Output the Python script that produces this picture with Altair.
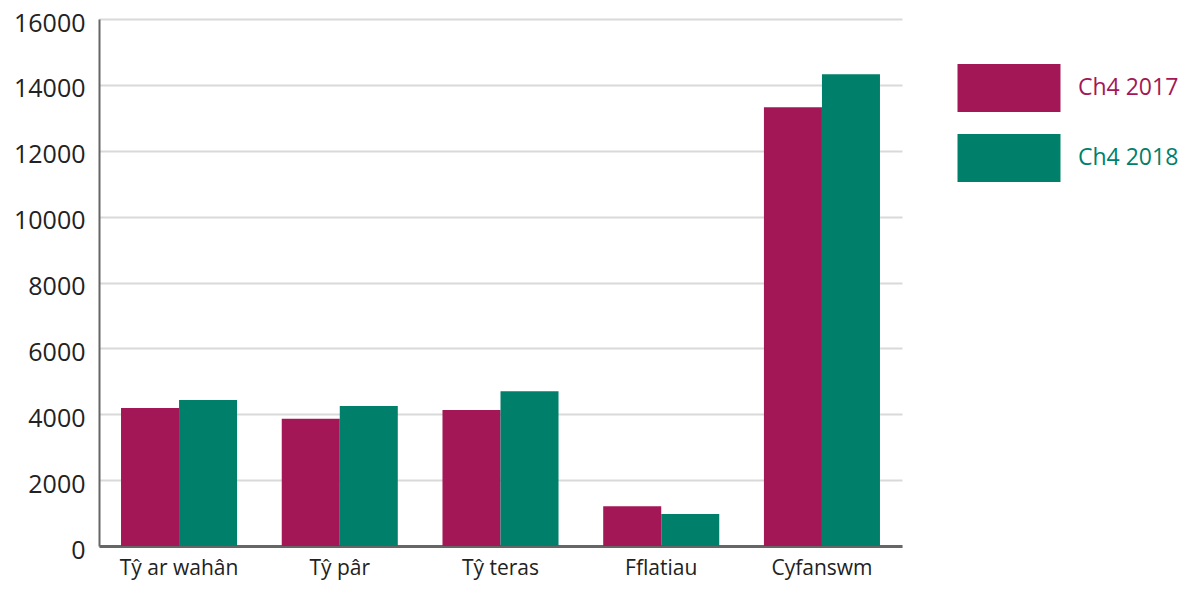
import altair as alt
import pandas as pd

categories = ["Tŷ ar wahân", "Tŷ pâr", "Tŷ teras", "Fflatiau", "Cyfanswm"]
series = ["Ch4 2017", "Ch4 2018"]
values_2017 = [4190, 3860, 4130, 1210, 13320]
values_2018 = [4430, 4250, 4700, 970, 14320]
colors = ["#A31756", "#00806A"]
y_ticks = [0, 2000, 4000, 6000, 8000, 10000, 12000, 14000, 16000]

rows = []
for c, a, b in zip(categories, values_2017, values_2018):
    rows.append({"cat": c, "series": series[0], "value": a})
    rows.append({"cat": c, "series": series[1], "value": b})
df = pd.DataFrame(rows)

FONT = "Open Sans"
label_color_expr = "datum.value == '%s' ? '%s' : '%s'" % (series[0], colors[0], colors[1])

chart = alt.Chart(df).mark_bar(strokeWidth=0).encode(
    x=alt.X("cat:N", sort=categories, title=None,
            scale=alt.Scale(paddingInner=0.278, paddingOuter=0.137),
            axis=alt.Axis(labelAngle=0, labelFontSize=21, labelColor="#222222",
                          labelFont=FONT, ticks=False, domainColor="#666666",
                          domainWidth=3, labelPadding=11)),
    xOffset=alt.XOffset("series:N", sort=series,
                        scale=alt.Scale(paddingInner=0, paddingOuter=0)),
    y=alt.Y("value:Q", title=None,
            scale=alt.Scale(domain=[0, 16000], nice=False),
            axis=alt.Axis(values=y_ticks, format="d", labelFontSize=25,
                          labelColor="#222222", labelOffset=4,
                          labelFont=FONT, ticks=False, domainColor="#666666",
                          domainWidth=2, gridColor="#d9d9d9", gridWidth=2,
                          labelPadding=14)),
    color=alt.Color("series:N", sort=series,
                    scale=alt.Scale(domain=series, range=colors),
                    legend=alt.Legend(
                        title=None, orient="none", legendX=884, legendY=43,
                        symbolType="M-2,-0.932L2,-0.932L2,0.932L-2,0.932Z",
                        symbolSize=2652, symbolStrokeWidth=0,
                        labelFontSize=23, labelFont=FONT, labelOffset=43,
                        rowPadding=20,
                        labelColor=alt.ExprRef(label_color_expr))),
).properties(
    width=803, height=527,
    padding={"left": 91, "top": 11, "right": 287, "bottom": 36},
    autosize=alt.AutoSizeParams(type="none"),
).configure_view(stroke=None).configure_axis(domainCap="butt")

chart.save("out.html", embed_options={"renderer": "svg", "actions": False})
